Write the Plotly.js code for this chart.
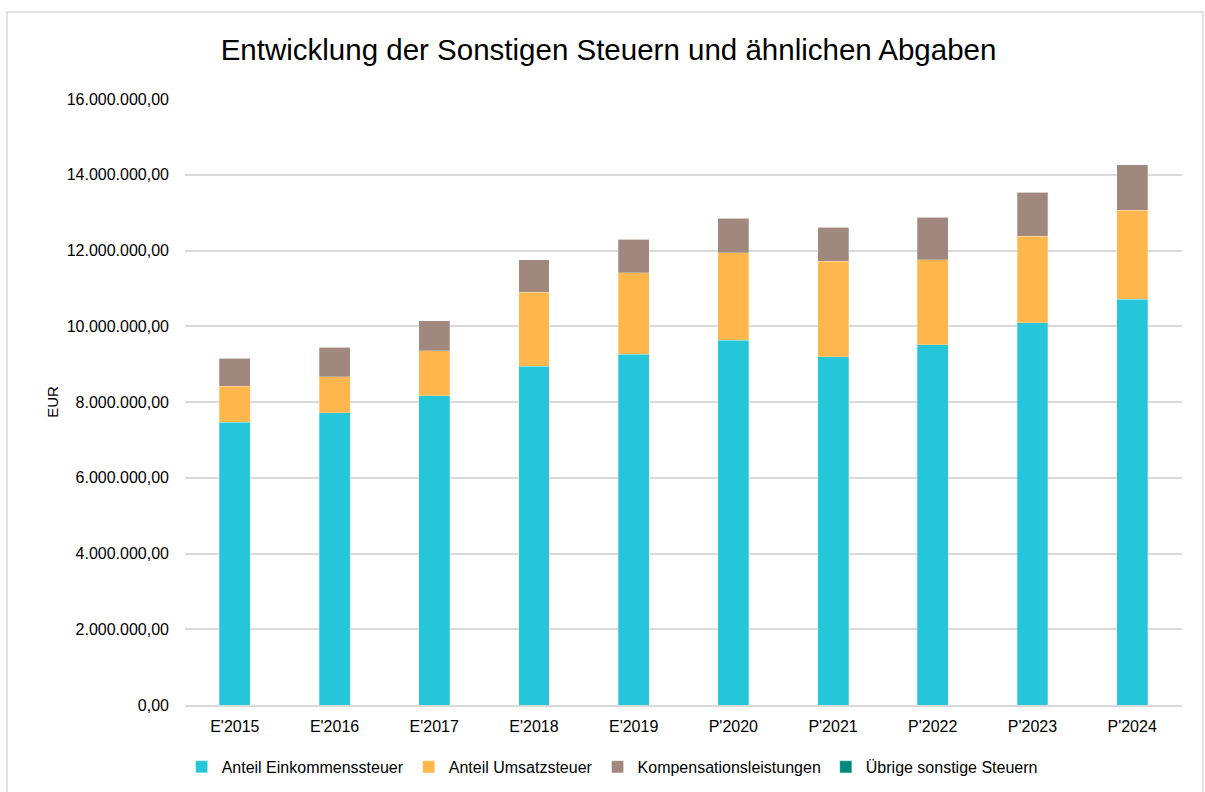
<!DOCTYPE html>
<html>
<head>
<meta charset="utf-8">
<script src="https://cdn.plot.ly/plotly-3.0.1.min.js"></script>
<style>
  html, body { margin: 0; padding: 0; background: #fff; }
  #chart { width: 1205px; height: 792px; }
</style>
</head>
<body>
<div id="chart"></div>
<script>
var years = ["E'2015", "E'2016", "E'2017", "E'2018", "E'2019", "P'2020", "P'2021", "P'2022", "P'2023", "P'2024"];

// values in EUR
var einkommen = [7470000, 7710000, 8160000, 8950000, 9260000, 9630000, 9190000, 9510000, 10090000, 10710000];
var umsatz = [940000, 960000, 1190000, 1950000, 2150000, 2310000, 2520000, 2240000, 2280000, 2350000];
var kompensation = [740000, 770000, 800000, 850000, 890000, 910000, 910000, 1130000, 1170000, 1200000];
var uebrige = [0, 0, 0, 0, 0, 0, 0, 0, 0, 0];

function bar(name, vals, color) {
  return {
    x: years,
    y: vals,
    name: name,
    type: 'bar',
    marker: {color: color, line: {color: 'rgba(255,255,255,0.5)', width: 0.5}},
    hovertemplate: '%{x}: %{y:,.2f}<extra>' + name + '</extra>'
  };
}

var data = [
  bar('Anteil Einkommenssteuer', einkommen, '#26C6DA'),
  bar('Anteil Umsatzsteuer', umsatz, '#FFB74D'),
  bar('Kompensationsleistungen', kompensation, '#A1887F'),
  bar('Übrige sonstige Steuern', uebrige, '#00897B')
];

var layout = {
  width: 1205,
  height: 792,
  barmode: 'stack',
  bargap: 0.69,
  separators: ',.',
  font: {family: 'Liberation Sans, Arial, sans-serif', color: '#000', size: 16},
  paper_bgcolor: '#fff',
  plot_bgcolor: '#fff',
  margin: {l: 185, r: 23, t: 99, b: 87, autoexpand: false},
  title: {
    text: 'Entwicklung der Sonstigen Steuern und ähnlichen Abgaben',
    font: {size: 29.5, color: '#000'},
    x: 0.505, xanchor: 'center',
    y: 0.937, yanchor: 'middle'
  },
  xaxis: {
    showgrid: false,
    showline: true,
    linecolor: '#d9d9d9',
    linewidth: 1.5,
    ticks: '',
    tickfont: {size: 16},
    ticklabelstandoff: 6
  },
  yaxis: {
    range: [0, 16000000],
    dtick: 2000000,
    tickformat: ',.2f',
    gridcolor: '#d9d9d9',
    gridwidth: 1.5,
    zeroline: false,
    ticks: '',
    ticklabelstandoff: 15,
    tickfont: {size: 16},
    title: {text: 'EUR', font: {size: 15}, standoff: 4}
  },
  legend: {
    orientation: 'h',
    xref: 'container', yref: 'container',
    x: 0.508, xanchor: 'center',
    y: 0.0316, yanchor: 'middle',
    font: {size: 16},
    itemwidth: 30,
    traceorder: 'normal'
  },
  shapes: [{
    type: 'rect', xref: 'paper', yref: 'paper',
    x0: -0.1785, x1: 1.021, y0: -0.2, y1: 1.1436,
    line: {color: '#d9d9d9', width: 1.5},
    fillcolor: 'rgba(0,0,0,0)'
  }]
};

Plotly.newPlot('chart', data, layout, {displayModeBar: false});
</script>
</body>
</html>
